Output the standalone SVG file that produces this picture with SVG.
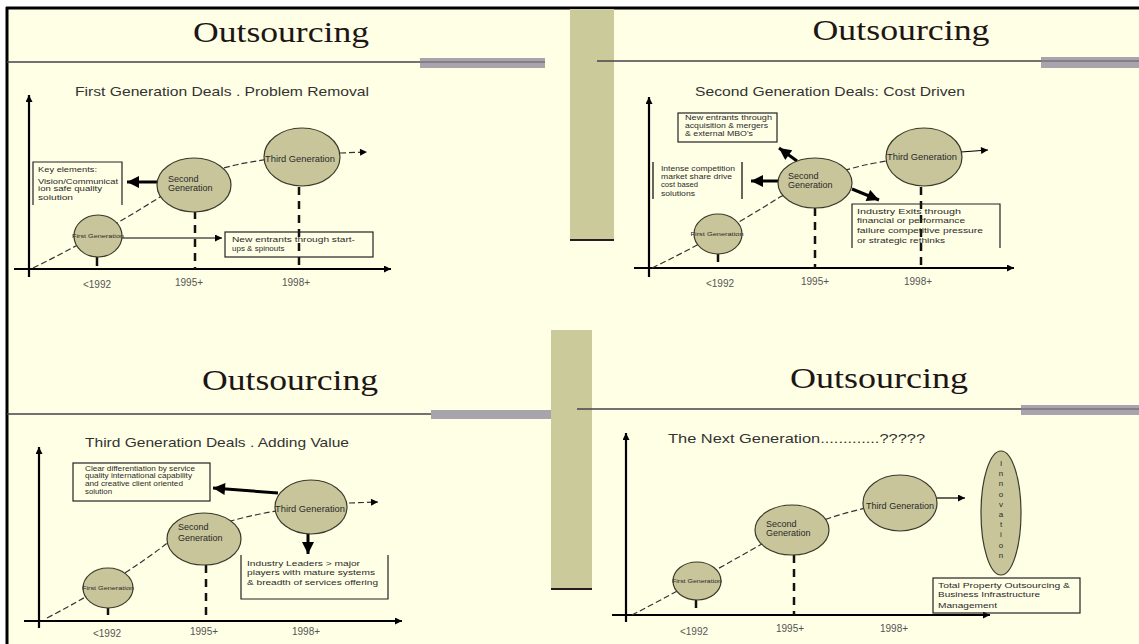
<svg xmlns="http://www.w3.org/2000/svg" width="1139" height="644" viewBox="0 0 1139 644">
<defs>
<style>
.ttl{font-family:"Liberation Serif","Times New Roman",serif;font-size:30px;fill:#1e1616;text-anchor:middle}
.sub{font-family:"Liberation Sans",Arial,sans-serif;font-size:13px;fill:#333}
.t{font-family:"Liberation Sans",Arial,sans-serif;font-size:8px;fill:#2a2a2a}
.ts{font-family:"Liberation Sans",Arial,sans-serif;font-size:5.5px;fill:#2a2a2a;text-anchor:middle}
.tg{font-family:"Liberation Sans",Arial,sans-serif;font-size:9px;fill:#2a2a2a}
.lbl{font-family:"Liberation Sans",Arial,sans-serif;font-size:10px;fill:#555;text-anchor:middle}
.gen{fill:#C8C59B;stroke:#3a3a2a;stroke-width:1.2}
.hl{stroke:#4b4049;stroke-width:1.5}
.gb{fill:#A8A4AD}
.tan{fill:#CBCA9B}
.dk{stroke:#2a1a22;stroke-width:2}
.ax{stroke:#000;stroke-width:2.2;fill:none}
.dc{stroke:#333;stroke-width:1.2;fill:none;stroke-dasharray:6 3}
.dv{stroke:#111;stroke-width:2.5;stroke-dasharray:8 6}
.tk{stroke:#111;stroke-width:2.5}
.box{fill:none;stroke:#222;stroke-width:1.2}
.thk{stroke:#000;stroke-width:3;fill:none}
.thn{stroke:#000;stroke-width:1.2;fill:none}
</style>
<marker id="a" viewBox="0 0 10 10" refX="10" refY="5" markerWidth="8" markerHeight="7" markerUnits="userSpaceOnUse" orient="auto"><path d="M0,0 L10,5 L0,10 z" fill="#000"/></marker>
<marker id="ab" viewBox="0 0 10 10" refX="10" refY="5" markerWidth="13" markerHeight="12" markerUnits="userSpaceOnUse" orient="auto"><path d="M0,0 L10,5 L0,10 z" fill="#000"/></marker>
</defs>
<rect x="0" y="0" width="1139" height="644" fill="#fff"/>
<rect x="6" y="7" width="1133" height="637" fill="#FFFFE6"/>
<line x1="6" y1="8" x2="1139" y2="8" stroke="#000" stroke-width="3"/>
<line x1="7" y1="7" x2="7" y2="644" stroke="#000" stroke-width="3"/>

<!-- decorative bars -->
<g id="decor">
<rect class="tan" x="570" y="9" width="44" height="231"/>
<line class="dk" x1="570" y1="240" x2="614" y2="240"/>
<rect class="tan" x="551" y="330" width="41" height="259"/>
<line class="dk" x1="551" y1="589" x2="592" y2="589"/>
<line class="hl" x1="7" y1="62" x2="545" y2="62"/>
<rect class="gb" x="420" y="58" width="125" height="10"/>
<line class="hl" x1="420" y1="62" x2="545" y2="62" opacity="0.5"/>
<line class="hl" x1="597" y1="61" x2="1139" y2="61"/>
<rect class="gb" x="1041" y="57" width="98" height="11"/>
<line class="hl" x1="1041" y1="61" x2="1139" y2="61" opacity="0.5"/>
<line class="hl" x1="7" y1="414" x2="551" y2="414"/>
<rect class="gb" x="431" y="410" width="120" height="9"/>
<line class="hl" x1="577" y1="409" x2="1139" y2="409"/>
<rect class="gb" x="1021" y="405" width="118" height="10"/>
<line class="hl" x1="1021" y1="409" x2="1139" y2="409" opacity="0.5"/>
</g>

<!-- titles -->
<g id="titles">
<text class="ttl" x="281" y="42" textLength="176" lengthAdjust="spacingAndGlyphs">Outsourcing</text>
<text class="ttl" x="901" y="40" textLength="177" lengthAdjust="spacingAndGlyphs">Outsourcing</text>
<text class="ttl" x="290" y="390" textLength="176" lengthAdjust="spacingAndGlyphs">Outsourcing</text>
<text class="ttl" x="879" y="388" textLength="178" lengthAdjust="spacingAndGlyphs">Outsourcing</text>
<text class="sub" x="75" y="96" textLength="294" lengthAdjust="spacingAndGlyphs">First Generation Deals . Problem Removal</text>
<text class="sub" x="695" y="96" textLength="270" lengthAdjust="spacingAndGlyphs">Second Generation Deals: Cost Driven</text>
<text class="sub" x="85" y="447" textLength="264" lengthAdjust="spacingAndGlyphs">Third Generation Deals . Adding Value</text>
<text class="sub" x="668" y="443" textLength="257" lengthAdjust="spacingAndGlyphs">The Next Generation.............?????</text>
</g>

<!-- connectors -->
<g id="connectors">
<!-- panel 1 -->
<line class="ax" x1="29" y1="277" x2="29" y2="95" marker-end="url(#a)"/>
<line class="ax" x1="14" y1="269" x2="391" y2="269" marker-end="url(#a)"/>
<path class="dc" d="M33,268 Q100,235 160,197 Q200,172 240,164 Q270,158 300,156"/>
<line class="dc" x1="340" y1="153" x2="367" y2="152" marker-end="url(#a)"/>
<line class="dv" x1="195" y1="211" x2="195" y2="269"/>
<line class="dv" x1="299" y1="187" x2="299" y2="269"/>
<line class="tk" x1="97" y1="257" x2="97" y2="266"/>
<line class="thk" x1="157" y1="182" x2="127" y2="182" marker-end="url(#ab)"/>
<line class="thn" x1="122" y1="238" x2="222" y2="238" marker-end="url(#a)"/>
<!-- panel 2 -->
<line class="ax" x1="649" y1="277" x2="649" y2="97" marker-end="url(#a)"/>
<line class="ax" x1="634" y1="268" x2="1014" y2="268" marker-end="url(#a)"/>
<path class="dc" d="M652,268 Q720,235 780,197 Q830,172 870,164 Q900,158 924,157"/>
<line class="dv" x1="815" y1="208" x2="815" y2="268"/>
<line class="dv" x1="921" y1="187" x2="921" y2="268"/>
<line class="tk" x1="718" y1="253" x2="718" y2="262"/>
<line class="thn" x1="961" y1="152" x2="988" y2="150" marker-end="url(#a)"/>
<line class="thk" x1="797" y1="161" x2="779" y2="148" marker-end="url(#ab)"/>
<line class="thk" x1="778" y1="181" x2="751" y2="181" marker-end="url(#ab)"/>
<line class="thk" x1="852" y1="189" x2="879" y2="200" marker-end="url(#ab)"/>
<!-- panel 3 -->
<line class="ax" x1="39" y1="628" x2="39" y2="447" marker-end="url(#a)"/>
<line class="ax" x1="24" y1="621" x2="402" y2="621" marker-end="url(#a)"/>
<path class="dc" d="M47,618 Q120,580 170,541 Q220,522 260,514 Q290,508 311,507"/>
<line class="dc" x1="349" y1="503" x2="378" y2="502" marker-end="url(#a)"/>
<line class="dv" x1="206" y1="565" x2="206" y2="621"/>
<line class="tk" x1="108" y1="607" x2="108" y2="615"/>
<line class="thk" x1="278" y1="493" x2="213" y2="488" marker-end="url(#ab)"/>
<line class="thk" x1="308" y1="534" x2="308" y2="554" marker-end="url(#ab)"/>
<!-- panel 4 -->
<line class="ax" x1="626" y1="622" x2="626" y2="433" marker-end="url(#a)"/>
<line class="ax" x1="612" y1="615" x2="990" y2="615" marker-end="url(#a)"/>
<path class="dc" d="M632,615 Q690,585 760,545 Q820,518 870,507 Q890,503 900,503"/>
<line class="dv" x1="794" y1="555" x2="794" y2="615"/>
<line class="tk" x1="696" y1="599" x2="696" y2="608"/>
<line class="thn" x1="937" y1="498" x2="965" y2="498" marker-end="url(#a)"/>
</g>

<!-- panel 1 nodes -->
<g id="p1-first"><ellipse class="gen" cx="98" cy="236" rx="24" ry="21"/><text class="ts" x="98" y="238" textLength="52" lengthAdjust="spacingAndGlyphs">First Generation</text></g>
<g id="p1-second"><ellipse class="gen" cx="194" cy="185" rx="37" ry="27"/><text class="tg" x="168" y="182">Second</text><text class="tg" x="168" y="191">Generation</text></g>
<g id="p1-third"><ellipse class="gen" cx="302" cy="157" rx="38" ry="29"/><text class="tg" x="300" y="162" text-anchor="middle" textLength="70" lengthAdjust="spacingAndGlyphs">Third Generation</text></g>
<g id="p1-key"><path class="box" d="M33,205 V162 H122 V205"/>
<text class="t" x="38" y="172" font-size="7" textLength="59" lengthAdjust="spacingAndGlyphs">Key elements:</text>
<text class="t" x="38" y="184" font-size="7" textLength="80" lengthAdjust="spacingAndGlyphs">Vision/Communicat</text>
<text class="t" x="38" y="191" font-size="7" textLength="64" lengthAdjust="spacingAndGlyphs">ion safe quality</text>
<text class="t" x="38" y="200" font-size="7" textLength="35" lengthAdjust="spacingAndGlyphs">solution</text></g>
<g id="p1-new"><rect class="box" x="225" y="232" width="148" height="25"/>
<text class="t" x="232" y="242" font-size="9" textLength="123" lengthAdjust="spacingAndGlyphs">New entrants through  start-</text>
<text class="t" x="232" y="251" font-size="9">ups &amp; spinouts</text></g>
<g id="p1-labels"><text class="lbl" x="97" y="288">&lt;1992</text><text class="lbl" x="189" y="286">1995+</text><text class="lbl" x="296" y="286">1998+</text></g>

<!-- panel 2 nodes -->
<g id="p2-first"><ellipse class="gen" cx="718" cy="234" rx="24" ry="20"/><text class="ts" x="717" y="236" textLength="53" lengthAdjust="spacingAndGlyphs">First Generation</text></g>
<g id="p2-second"><ellipse class="gen" cx="815" cy="183" rx="37" ry="25"/><text class="tg" x="788" y="179">Second</text><text class="tg" x="788" y="188">Generation</text></g>
<g id="p2-third"><ellipse class="gen" cx="924" cy="157" rx="38" ry="29"/><text class="tg" x="922" y="160" text-anchor="middle" textLength="70" lengthAdjust="spacingAndGlyphs">Third Generation</text></g>
<g id="p2-new"><rect class="box" x="678" y="113" width="99" height="29"/>
<text class="t" x="685" y="120" font-size="7.5" textLength="87" lengthAdjust="spacingAndGlyphs">New entrants through</text>
<text class="t" x="685" y="128" font-size="7.5" textLength="83" lengthAdjust="spacingAndGlyphs">acquisition &amp; mergers</text>
<text class="t" x="685" y="136" font-size="7.5" textLength="68" lengthAdjust="spacingAndGlyphs">&amp; external MBO's</text></g>
<g id="p2-intense"><line class="thn" x1="653" y1="162" x2="653" y2="199"/><line class="thn" x1="742" y1="162" x2="742" y2="199"/>
<text class="t" x="661" y="171" font-size="7.5" textLength="74" lengthAdjust="spacingAndGlyphs">Intense competition</text>
<text class="t" x="661" y="179" font-size="7.5" textLength="71" lengthAdjust="spacingAndGlyphs">market share drive</text>
<text class="t" x="661" y="187" font-size="7.5" textLength="37" lengthAdjust="spacingAndGlyphs">cost based</text>
<text class="t" x="661" y="196" font-size="7.5" textLength="34" lengthAdjust="spacingAndGlyphs">solutions</text></g>
<g id="p2-exits"><path class="box" d="M852,248 V204 H1000 V248"/>
<text class="t" x="857" y="214" font-size="9" textLength="104" lengthAdjust="spacingAndGlyphs">Industry  Exits through</text>
<text class="t" x="857" y="223" font-size="9" textLength="108" lengthAdjust="spacingAndGlyphs">financial or  performance</text>
<text class="t" x="857" y="233" font-size="9" textLength="126" lengthAdjust="spacingAndGlyphs">failure competitive  pressure</text>
<text class="t" x="857" y="243" font-size="9" textLength="88" lengthAdjust="spacingAndGlyphs">or strategic rethinks</text></g>
<g id="p2-labels"><text class="lbl" x="720" y="287">&lt;1992</text><text class="lbl" x="815" y="285">1995+</text><text class="lbl" x="918" y="285">1998+</text></g>

<!-- panel 3 nodes -->
<g id="p3-first"><ellipse class="gen" cx="108" cy="588" rx="25" ry="20"/><text class="ts" x="108" y="590" textLength="52" lengthAdjust="spacingAndGlyphs">First Generation</text></g>
<g id="p3-second"><ellipse class="gen" cx="204" cy="539" rx="37" ry="26"/><text class="tg" x="178" y="530">Second</text><text class="tg" x="178" y="541">Generation</text></g>
<g id="p3-third"><ellipse class="gen" cx="311" cy="507" rx="36" ry="27"/><text class="tg" x="310" y="512" text-anchor="middle" textLength="70" lengthAdjust="spacingAndGlyphs">Third Generation</text></g>
<g id="p3-clear"><rect class="box" x="73" y="463" width="137" height="38"/>
<text class="t" x="85" y="471" font-size="7" textLength="110" lengthAdjust="spacingAndGlyphs">Clear differentiation by service</text>
<text class="t" x="85" y="478" font-size="7" textLength="107" lengthAdjust="spacingAndGlyphs">quality international capability</text>
<text class="t" x="85" y="486" font-size="7" textLength="98" lengthAdjust="spacingAndGlyphs">and creative client oriented</text>
<text class="t" x="85" y="494" font-size="7" textLength="27" lengthAdjust="spacingAndGlyphs">solution</text></g>
<g id="p3-leaders"><path class="box" d="M241,555 V599 H388 V555"/>
<text class="t" x="247" y="566" font-size="8.5" textLength="113" lengthAdjust="spacingAndGlyphs">Industry  Leaders  &gt; major</text>
<text class="t" x="247" y="575" font-size="8.5" textLength="128" lengthAdjust="spacingAndGlyphs">players with mature systems</text>
<text class="t" x="247" y="585" font-size="8.5" textLength="131" lengthAdjust="spacingAndGlyphs">&amp; breadth of services offering</text></g>
<g id="p3-labels"><text class="lbl" x="107" y="637">&lt;1992</text><text class="lbl" x="204" y="635">1995+</text><text class="lbl" x="306" y="635">1998+</text></g>

<!-- panel 4 nodes -->
<g id="p4-first"><ellipse class="gen" cx="697" cy="581" rx="24" ry="19"/><text class="ts" x="697" y="583" textLength="50" lengthAdjust="spacingAndGlyphs">First Generation</text></g>
<g id="p4-second"><ellipse class="gen" cx="792" cy="530" rx="37" ry="25"/><text class="tg" x="766" y="527">Second</text><text class="tg" x="766" y="536">Generation</text></g>
<g id="p4-third"><ellipse class="gen" cx="900" cy="503" rx="37" ry="28"/><text class="tg" x="900" y="509" text-anchor="middle" textLength="68" lengthAdjust="spacingAndGlyphs">Third Generation</text></g>
<g id="p4-innovation"><ellipse class="gen" cx="1001" cy="513" rx="20" ry="62"/>
<text class="t" x="1001" y="466" text-anchor="middle" font-size="8.5"><tspan x="1001">I</tspan><tspan x="1001" dy="10.2">n</tspan><tspan x="1001" dy="10.2">n</tspan><tspan x="1001" dy="10.2">o</tspan><tspan x="1001" dy="10.2">v</tspan><tspan x="1001" dy="10.2">a</tspan><tspan x="1001" dy="10.2">t</tspan><tspan x="1001" dy="10.2">i</tspan><tspan x="1001" dy="10.2">o</tspan><tspan x="1001" dy="10.2">n</tspan></text></g>
<g id="p4-total"><rect class="box" x="933" y="578" width="147" height="35"/>
<text class="t" x="938" y="588" font-size="8.5" textLength="132" lengthAdjust="spacingAndGlyphs">Total Property  Outsourcing &amp;</text>
<text class="t" x="938" y="597" font-size="8.5" textLength="102" lengthAdjust="spacingAndGlyphs">Business  Infrastructure</text>
<text class="t" x="938" y="608" font-size="8.5" textLength="59" lengthAdjust="spacingAndGlyphs">Management</text></g>
<g id="p4-labels"><text class="lbl" x="694" y="635">&lt;1992</text><text class="lbl" x="790" y="632">1995+</text><text class="lbl" x="894" y="632">1998+</text></g>
</svg>
